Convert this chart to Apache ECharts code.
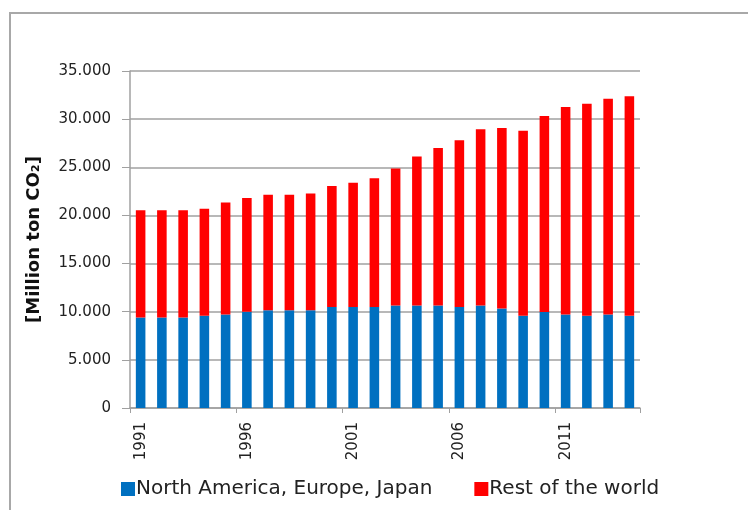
<!DOCTYPE html>
<html>
<head>
<meta charset="utf-8">
<script src="https://cdn.jsdelivr.net/npm/echarts@6/dist/echarts.min.js"></script>
<style>
html,body{margin:0;padding:0;background:#fff;}
#chart{width:748px;height:510px;}
</style>
</head>
<body>
<div id="chart"></div>
<script>
var years = ['1991','1992','1993','1994','1995','1996','1997','1998','1999','2000','2001','2002','2003','2004','2005','2006','2007','2008','2009','2010','2011','2012','2013','2014'];
var naEuJp = [9400,9400,9400,9580,9720,9990,10160,10160,10160,10500,10500,10500,10650,10650,10650,10500,10650,10340,9580,9960,9720,9580,9720,9580];
var restOfWorld = [11130,11130,11130,11120,11610,11820,11990,11990,12130,12550,12890,13370,14220,15460,16360,17300,18290,18740,19220,20360,21530,22010,22390,22800];
var yTicks = {min:0, max:35000, interval:5000};
var seriesNames = ['North America, Europe, Japan','Rest of the world'];

var font = 'DejaVu Sans';
var chart = echarts.init(document.getElementById('chart'), null, {renderer:'canvas'});
chart.setOption({
  animation:false,
  backgroundColor:'#fff',
  graphic:[{
    type:'rect', shape:{x:10,y:13,width:800,height:600},
    style:{fill:'none', stroke:'#a8a8a8', lineWidth:2}, silent:true
  }],
  grid:{left:130, right:108, top:71, bottom:102, containLabel:false},
  legend:{
    left:116, top:474, icon:'rect', itemWidth:14, itemHeight:14, itemGap:42,
    textStyle:{fontFamily:font, fontSize:20, color:'#222', padding:[0,0,0,-4]},
    data:seriesNames
  },
  xAxis:{
    type:'category', data:years, boundaryGap:true,
    axisLine:{show:true, lineStyle:{color:'#a0a0a0', width:1.5}},
    axisTick:{show:true, interval:4, length:5, alignWithLabel:false, lineStyle:{color:'#a0a0a0'}},
    axisLabel:{interval:4, rotate:90, margin:14, fontFamily:font, fontSize:15, color:'#222'}
  },
  yAxis:{
    type:'value', min:yTicks.min, max:yTicks.max, interval:yTicks.interval,
    name:'[Million ton CO\u2082]', nameLocation:'middle', nameGap:87, nameRotate:90,
    nameTextStyle:{fontFamily:font, fontSize:18, fontWeight:'bold', color:'#111'},
    axisLine:{show:true, lineStyle:{color:'#a0a0a0', width:1.5}},
    axisTick:{show:true, inside:false, length:8, lineStyle:{color:'#a0a0a0'}},
    axisLabel:{margin:19, fontFamily:font, fontSize:15, color:'#222',
      formatter:function(v){return v===0?'0':String(v).replace(/\B(?=(\d{3})+(?!\d))/g,'.');}},
    splitLine:{show:true, lineStyle:{color:'#a0a0a0', width:1.5}}
  },
  series:[
    {name:seriesNames[0], type:'bar', stack:'total', data:naEuJp, barWidth:'45%', itemStyle:{color:'#0070C0'}},
    {name:seriesNames[1], type:'bar', stack:'total', data:restOfWorld, barWidth:'45%', itemStyle:{color:'#FF0000'}}
  ]
});
</script>
</body>
</html>
